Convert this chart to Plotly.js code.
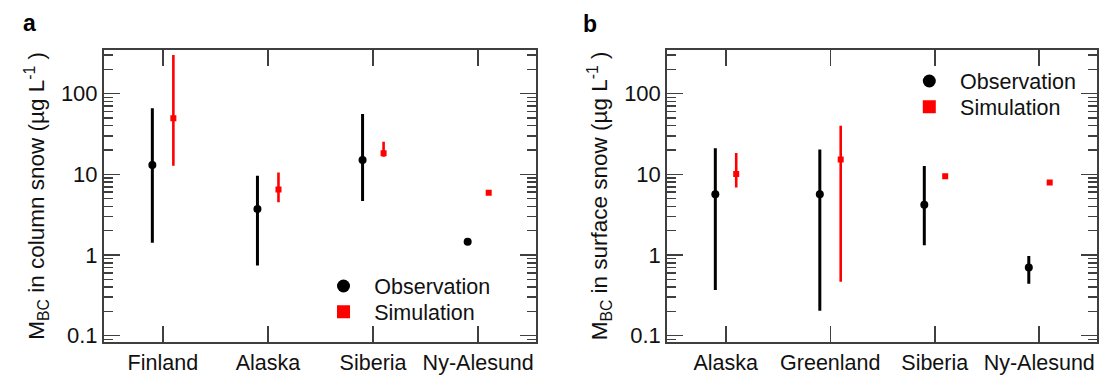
<!DOCTYPE html>
<html>
<head>
<meta charset="utf-8">
<script src="https://cdn.plot.ly/plotly-3.0.1.min.js"></script>
<style>html,body{margin:0;padding:0;background:#fff;}#chart{width:1104px;height:381px;}</style>
</head>
<body>
<div id="chart"></div>
<script>
// ---- Data ----
const categoriesA = ['Finland', 'Alaska', 'Siberia', 'Ny-Alesund'];
const obsA      = [13.0, 3.72, 15.0, 1.46];
const obsA_low  = [1.42, 0.74, 4.67, null];
const obsA_high = [65.8, 9.6, 55.9, null];
const simA      = [49.4, 6.5, 18.2, 5.9];
const simA_low  = [12.8, 4.5, 16.5, null];
const simA_high = [301, 10.5, 25.3, null];

const categoriesB = ['Alaska', 'Greenland', 'Siberia', 'Ny-Alesund'];
const obsB      = [5.66, 5.66, 4.21, 0.70];
const obsB_low  = [0.368, 0.204, 1.32, 0.44];
const obsB_high = [21.1, 20.3, 12.7, 0.97];
const simB      = [10.1, 15.3, 9.47, 7.9];
const simB_low  = [6.85, 0.467, null, null];
const simB_high = [18.3, 39.9, null, null];

const seriesNames = ['Observation', 'Simulation'];
const yTitleA = 'M<sub>BC</sub> in column snow (µg L<sup>-1</sup> )';
const yTitleB = 'M<sub>BC</sub> in surface snow (µg L<sup>-1</sup> )';

// ---- helpers ----
const FONT = 'Liberation Sans, Arial, sans-serif';
const FRAME = '#3f3f3f';
const OFFSET = 0.1;
const up = (mid, hi) => mid.map((m, i) => hi[i] == null ? null : hi[i] - m);
const dn = (mid, lo) => mid.map((m, i) => lo[i] == null ? null : m - lo[i]);
const xs = (cats, off) => cats.map((c, i) => i + off);

function obsTrace(cats, mid, lo, hi, xa, ya) {
  return {
    type: 'scatter', mode: 'markers', x: xs(cats, -OFFSET), y: mid, xaxis: xa, yaxis: ya,
    marker: {symbol: 'circle', size: 8, color: '#000'},
    error_y: {type: 'data', symmetric: false, array: up(mid, hi), arrayminus: dn(mid, lo),
              color: '#000', thickness: 3, width: 0},
    showlegend: false, hoverinfo: 'skip'
  };
}
function simTrace(cats, mid, lo, hi, xa, ya) {
  return {
    type: 'scatter', mode: 'markers', x: xs(cats, OFFSET), y: mid, xaxis: xa, yaxis: ya,
    marker: {symbol: 'square', size: 6, color: '#ff0000'},
    error_y: {type: 'data', symmetric: false, array: up(mid, hi), arrayminus: dn(mid, lo),
              color: '#ff0000', thickness: 2.6, width: 0},
    showlegend: false, hoverinfo: 'skip'
  };
}
function legendTrace(name, symbol, color, legendId, xa, ya) {
  return {
    type: 'scatter', mode: 'markers', x: [null], y: [null], xaxis: xa, yaxis: ya,
    name: '\u2002' + name, legend: legendId,
    marker: {symbol: symbol, size: 13, color: color}, showlegend: true, hoverinfo: 'skip'
  };
}

const data = [
  obsTrace(categoriesA, obsA, obsA_low, obsA_high, 'x', 'y'),
  simTrace(categoriesA, simA, simA_low, simA_high, 'x', 'y'),
  obsTrace(categoriesB, obsB, obsB_low, obsB_high, 'x2', 'y2'),
  simTrace(categoriesB, simB, simB_low, simB_high, 'x2', 'y2'),
  legendTrace(seriesNames[0], 'circle', '#000', 'legend', 'x', 'y'),
  legendTrace(seriesNames[1], 'square', '#ff0000', 'legend2', 'x', 'y'),
  legendTrace(seriesNames[0], 'circle', '#000', 'legend3', 'x2', 'y2'),
  legendTrace(seriesNames[1], 'square', '#ff0000', 'legend4', 'x2', 'y2')
];

// minor ticks for log axis (2..9 in each decade)
const minorVals = [];
for (let e = -2; e <= 2; e++) for (let m = 2; m <= 9; m++) minorVals.push(m * Math.pow(10, e));

function xAxis(domain, cats) {
  return {
    domain: domain, range: [-0.56, 3.55], type: 'linear',
    tickmode: 'array', tickvals: cats.map((c, i) => i), ticktext: cats,
    ticks: 'inside', ticklen: 16, tickwidth: 1.5, tickcolor: FRAME,
    showline: true, linecolor: FRAME, linewidth: 2, mirror: 'ticks',
    showgrid: false, zeroline: false, fixedrange: true,
    tickfont: {family: FONT, size: 21.5, color: '#111'}
  };
}
function yAxis(anchor, title) {
  return {
    anchor: anchor, domain: [0.1031, 0.8688], type: 'log', range: [-1.074, 2.54],
    dtick: 1, ticks: 'inside', ticklen: 16, tickwidth: 1.5, tickcolor: FRAME,
    minor: {ticks: 'inside', ticklen: 9, tickwidth: 1.5, tickcolor: FRAME, tickmode: 'array', tickvals: minorVals, showgrid: false},
    showline: true, linecolor: FRAME, linewidth: 2, mirror: 'ticks',
    showgrid: false, zeroline: false, fixedrange: true,
    tickfont: {family: FONT, size: 22, color: '#111'},
    title: {text: title, font: {family: FONT, size: 22.5, color: '#111'}, standoff: 10}
  };
}
function legendBox(x, y) {
  return {x: x, y: y, xref: 'paper', yref: 'paper', xanchor: 'left', yanchor: 'middle',
          bgcolor: 'rgba(0,0,0,0)', borderwidth: 0,
          font: {family: FONT, size: 21.5, color: '#111'}};
}

const layout = {
  width: 1104, height: 381,
  margin: {l: 0, r: 0, t: 0, b: 0},
  paper_bgcolor: '#fff', plot_bgcolor: '#fff',
  showlegend: true,
  xaxis: Object.assign(xAxis([0.0942, 0.4855], categoriesA), {anchor: 'y'}),
  yaxis: yAxis('x', yTitleA),
  xaxis2: Object.assign(xAxis([0.6044, 0.9934], categoriesB), {anchor: 'y2'}),
  yaxis2: yAxis('x2', yTitleB),
  legend: legendBox((343.5 - 20) / 1104, 1 - 286 / 381),
  legend2: legendBox((343.5 - 20) / 1104, 1 - 311.7 / 381),
  legend3: legendBox((929.3 - 20) / 1104, 1 - 81 / 381),
  legend4: legendBox((929.3 - 20) / 1104, 1 - 106.7 / 381),
  annotations: [
    {text: '<b>a</b>', xref: 'paper', yref: 'paper', x: 29 / 1104, y: 1 - 23 / 381,
     xanchor: 'center', yanchor: 'middle', showarrow: false, font: {family: FONT, size: 23, color: '#000'}},
    {text: '<b>b</b>', xref: 'paper', yref: 'paper', x: 590 / 1104, y: 1 - 24 / 381,
     xanchor: 'center', yanchor: 'middle', showarrow: false, font: {family: FONT, size: 23, color: '#000'}}
  ]
};

Plotly.newPlot('chart', data, layout, {displayModeBar: false, staticPlot: true});
</script>
</body>
</html>
